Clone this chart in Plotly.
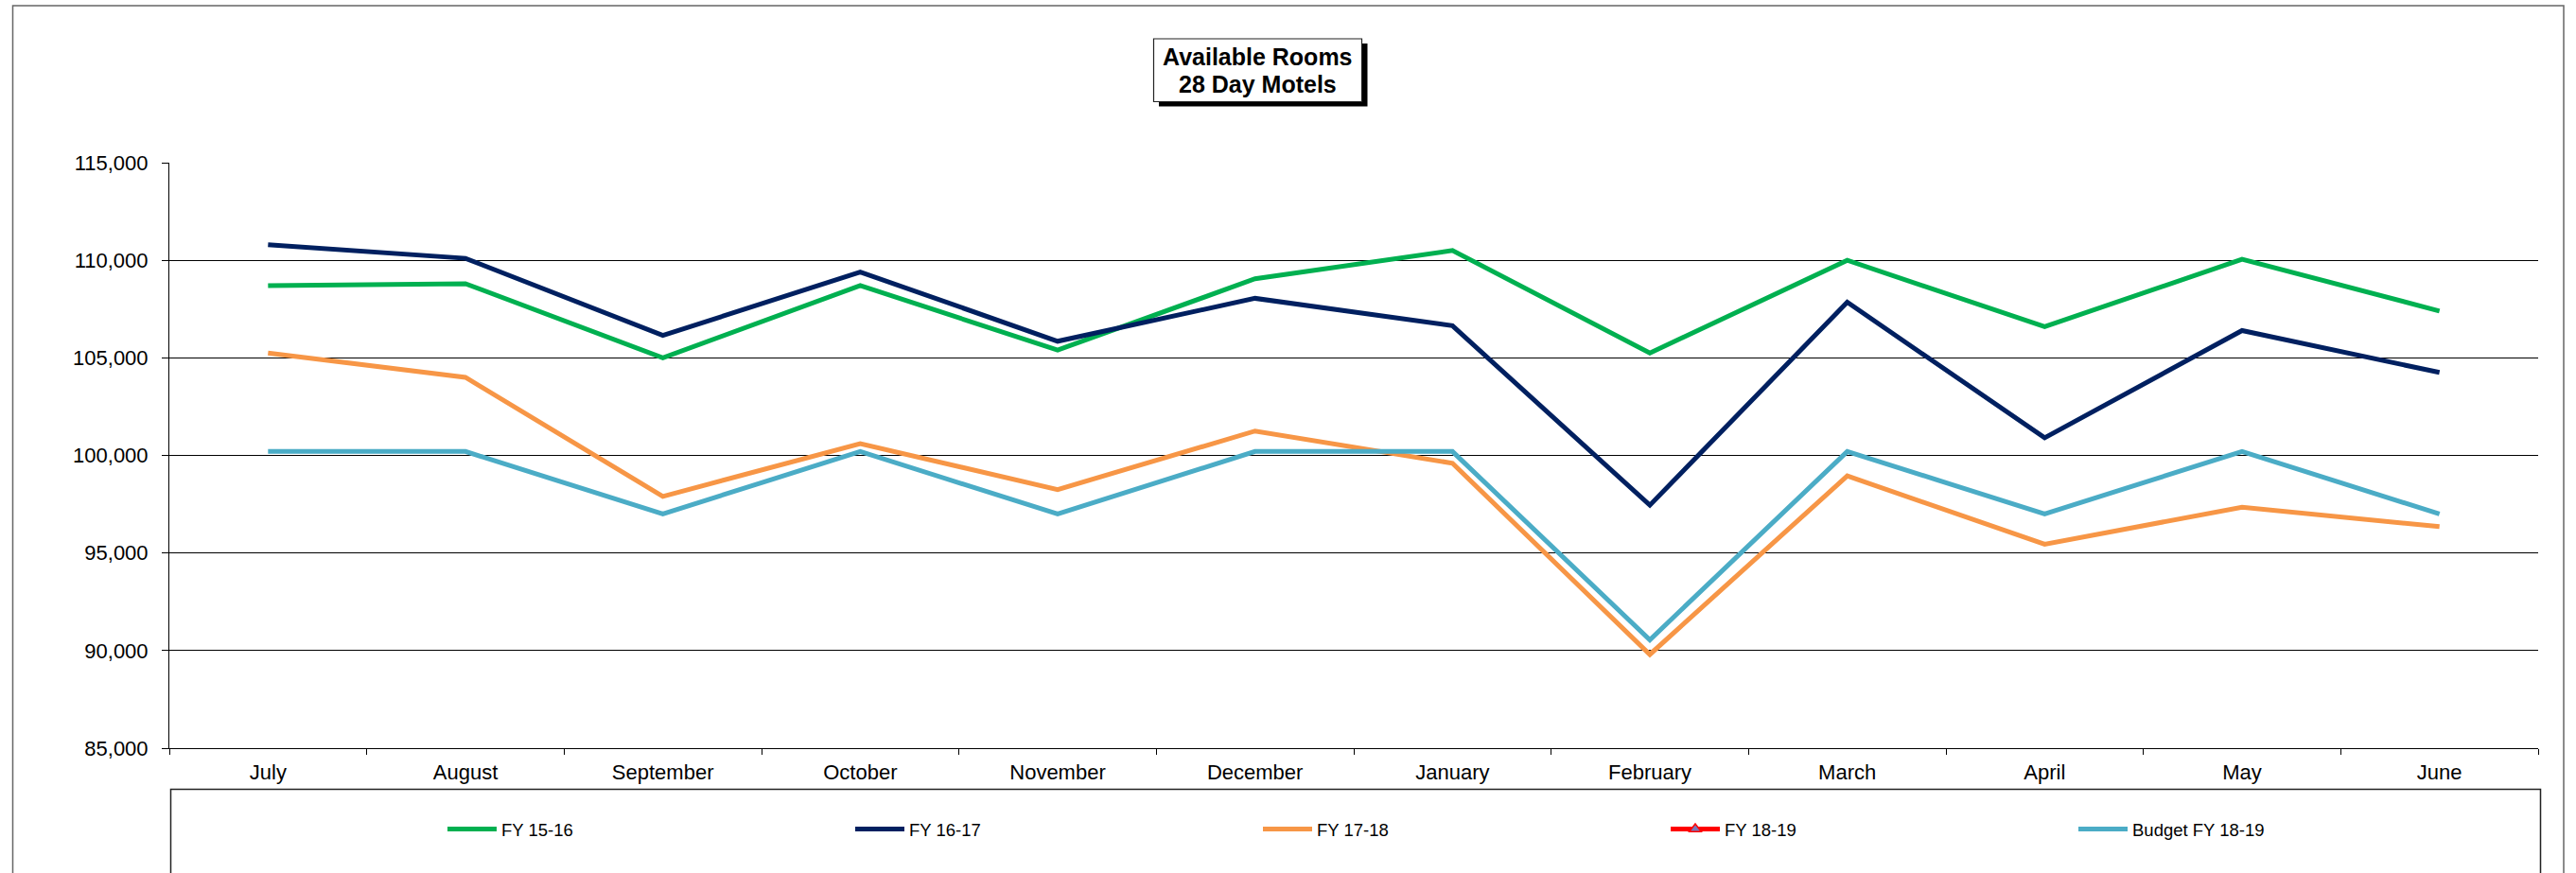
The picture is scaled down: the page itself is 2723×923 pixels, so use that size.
import plotly.graph_objects as go

months = ["July", "August", "September", "October", "November", "December",
          "January", "February", "March", "April", "May", "June"]

fy1516 = [108700, 108800, 105000, 108700, 105400, 109050, 110500, 105250, 110000, 106600, 110050, 107400]
fy1617 = [110800, 110100, 106150, 109400, 105850, 108050, 106650, 97450, 107850, 100900, 106400, 104250]
fy1718 = [105250, 104000, 97900, 100600, 98250, 101250, 99600, 89800, 98950, 95450, 97350, 96350]
fy1819 = [None] * 12
budget = [100200, 100200, 97000, 100200, 97000, 100200, 100200, 90550, 100200, 97000, 100200, 97000]

series_names = ["FY 15-16", "FY 16-17", "FY 17-18", "FY 18-19", "Budget FY 18-19"]
series_colors = ["#00B050", "#002060", "#F79646", "#FF0000", "#4BACC6"]

y_ticks = [85000, 90000, 95000, 100000, 105000, 110000, 115000]

W, H = 2723, 923
L, R, T, B = 179, 40, 172, 132
PW, PH = W - L - R, H - T - B


def px(x):
    return (x - L) / PW


def py(y):
    return (H - B - y) / PH


FONT = "Liberation Sans, Arial, sans-serif"

fig = go.Figure()
for name, vals, col in zip(series_names, [fy1516, fy1617, fy1718, fy1819, budget], series_colors):
    if name == "FY 18-19":
        fig.add_trace(go.Scatter(
            x=months, y=vals, name=name, mode="lines+markers",
            line=dict(color=col, width=5),
            marker=dict(symbol="triangle-up", size=11, color="#7878B8",
                        line=dict(color=col, width=1.5)),
        ))
    else:
        fig.add_trace(go.Scatter(
            x=months, y=vals, name=name, mode="lines",
            line=dict(color=col, width=5),
        ))

shapes = [
    # outer chart border
    dict(type="rect", xref="paper", yref="paper",
         x0=px(13.5), x1=px(2710), y0=py(935), y1=py(6),
         line=dict(color="#666666", width=1.5), fillcolor="rgba(0,0,0,0)", layer="below"),
    # legend box
    dict(type="rect", xref="paper", yref="paper",
         x0=px(180.5), x1=px(2685.5), y0=py(935), y1=py(834.5),
         line=dict(color="#222222", width=1.5), fillcolor="rgba(0,0,0,0)", layer="below"),
    # title shadow
    dict(type="rect", xref="paper", yref="paper",
         x0=px(1225), x1=px(1445.5), y0=py(112.5), y1=py(46),
         line=dict(width=0), fillcolor="#000000", layer="above"),
    # title box
    dict(type="rect", xref="paper", yref="paper",
         x0=px(1219.5), x1=px(1439.5), y0=py(107.5), y1=py(41),
         line=dict(color="#222222", width=1.2), fillcolor="#FFFFFF", layer="above"),
]

annotations = [
    dict(text="<b>Available Rooms</b>", xref="paper", yref="paper",
         x=px(1329.5), y=py(60.5), xanchor="center", yanchor="middle", showarrow=False,
         font=dict(family=FONT, size=25, color="#000000")),
    dict(text="<b>28 Day Motels</b>", xref="paper", yref="paper",
         x=px(1329.5), y=py(89), xanchor="center", yanchor="middle", showarrow=False,
         font=dict(family=FONT, size=25, color="#000000")),
]

fig.update_layout(
    width=W, height=H,
    margin=dict(l=L, r=R, t=T, b=B, pad=0, autoexpand=False),
    paper_bgcolor="#FFFFFF", plot_bgcolor="#FFFFFF",
    font=dict(family=FONT, color="#000000"),
    shapes=shapes,
    annotations=annotations,
    showlegend=True,
    hovermode=False,
    legend=dict(
        orientation="h", x=px(468), y=py(877), xanchor="left", yanchor="middle",
        entrywidth=364, entrywidthmode="pixels", itemwidth=52,
        font=dict(family=FONT, size=18.5, color="#000000"),
        bgcolor="rgba(0,0,0,0)", borderwidth=0,
    ),
    xaxis=dict(
        type="category", range=[-0.5, 11.5], autorange=False,
        showgrid=False, showline=True, linecolor="#000000", linewidth=1,
        ticks="outside", tickson="boundaries", ticklen=6, tickcolor="#000000",
        tickfont=dict(family=FONT, size=22, color="#000000"),
        ticklabelstandoff=6, zeroline=False, fixedrange=True,
    ),
    yaxis=dict(
        range=[85000, 115000], autorange=False, tickvals=y_ticks, tickformat=",",
        showgrid=True, gridcolor="#000000", gridwidth=1,
        showline=True, linecolor="#000000", linewidth=1,
        ticks="outside", ticklen=7, tickcolor="#000000",
        tickfont=dict(family=FONT, size=22, color="#000000"),
        ticklabelstandoff=10, zeroline=False, fixedrange=True,
    ),
)

fig.write_html("out.html", config={"displayModeBar": False},
               post_script="document.body.style.margin='0px';")
